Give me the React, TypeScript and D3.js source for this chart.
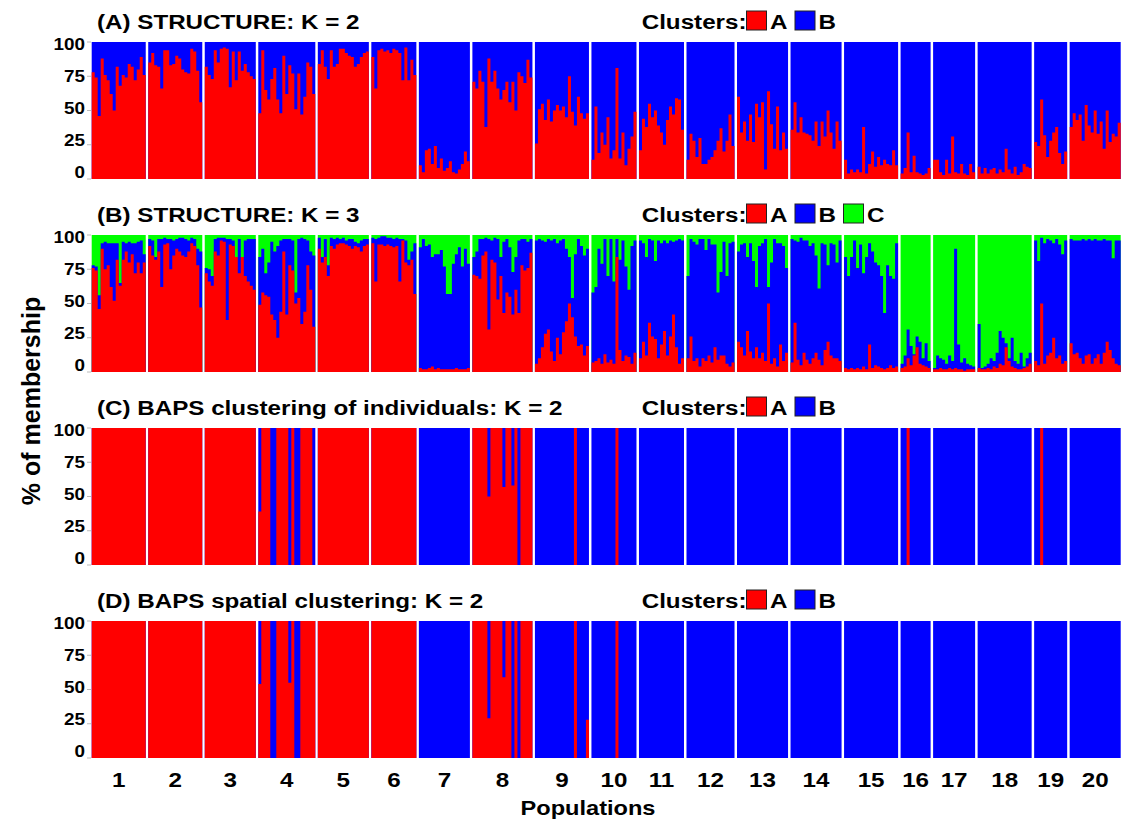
import React from "react";
import * as d3 from "d3";

// populations along the x axis
const populations = d3.range(1, 21).map(String);
const tickValues = [0, 25, 50, 75, 100];

// (A) STRUCTURE K = 2 : % membership to cluster A, one value per individual
const k2A = [
  [78, 74, 46, 88, 76, 72, 62, 50, 82, 68, 76, 74, 84, 82, 72, 80, 89, 76],
  [85, 92, 83, 82, 66, 94, 94, 83, 84, 90, 88, 80, 78, 77, 95, 93, 79, 56],
  [82, 76, 73, 94, 85, 95, 96, 95, 67, 93, 72, 93, 79, 84, 78, 75, 73],
  [48, 94, 65, 58, 73, 81, 58, 48, 90, 62, 83, 77, 51, 77, 47, 60, 85, 82, 62],
  [84, 94, 82, 73, 94, 82, 84, 95, 95, 92, 90, 89, 82, 84, 89, 92, 93],
  [89, 66, 94, 95, 93, 94, 92, 95, 94, 92, 72, 96, 72, 87, 76],
  [10, 5, 21, 22, 11, 24, 8, 15, 6, 8, 13, 5, 4, 7, 11, 20, 13],
  [71, 66, 79, 71, 38, 88, 71, 79, 66, 58, 65, 71, 56, 71, 50, 78, 75, 70, 87, 74],
  [26, 51, 55, 43, 58, 42, 50, 54, 50, 53, 45, 75, 49, 39, 60, 48, 44, 48],
  [14, 53, 19, 34, 25, 45, 15, 21, 81, 15, 34, 10, 22, 31, 49],
  [21, 44, 38, 55, 45, 50, 39, 34, 25, 43, 53, 47, 59, 58, 36],
  [14, 33, 28, 16, 30, 11, 11, 14, 16, 21, 28, 37, 20, 28, 47, 24],
  [60, 34, 42, 28, 47, 27, 55, 45, 56, 7, 64, 40, 22, 53, 21, 34, 22],
  [36, 56, 34, 45, 34, 33, 32, 28, 42, 24, 42, 31, 50, 34, 22, 42, 28],
  [14, 4, 7, 5, 7, 5, 38, 4, 11, 20, 9, 16, 10, 14, 11, 10, 21, 10],
  [4, 8, 34, 5, 17, 5, 4, 3, 4, 8],
  [14, 14, 5, 3, 14, 4, 31, 5, 4, 11, 4, 3, 11, 5],
  [9, 4, 8, 4, 7, 8, 4, 7, 5, 22, 7, 4, 9, 3, 5, 11, 9, 8],
  [27, 24, 58, 32, 16, 28, 34, 38, 19, 11, 20],
  [38, 48, 43, 47, 28, 54, 39, 34, 50, 33, 42, 22, 50, 27, 33, 31, 41],
];

// (B) STRUCTURE K = 3 : % cluster A, and % cluster A + B (rest is C)
const k3A = [
  [76, 74, 46, 90, 75, 78, 62, 52, 82, 63, 82, 88, 80, 86, 72, 80, 72, 80],
  [92, 85, 82, 88, 62, 93, 94, 75, 85, 90, 88, 85, 84, 88, 94, 92, 78, 47],
  [72, 66, 63, 88, 85, 96, 95, 38, 93, 92, 84, 72, 84, 70, 66, 63, 60],
  [49, 58, 56, 55, 42, 38, 25, 44, 88, 42, 78, 74, 50, 54, 35, 44, 78, 60, 33],
  [90, 80, 84, 70, 92, 90, 93, 94, 94, 93, 92, 90, 92, 91, 88, 92, 93],
  [94, 66, 93, 93, 92, 93, 92, 91, 92, 66, 96, 80, 78, 82, 57],
  [3, 2, 2, 3, 4, 2, 3, 2, 2, 2, 2, 2, 3, 2, 2, 2, 3],
  [71, 70, 68, 85, 88, 31, 82, 80, 53, 70, 43, 58, 55, 42, 60, 43, 78, 74, 76, 87],
  [6, 10, 18, 28, 31, 15, 8, 25, 13, 29, 37, 50, 40, 26, 19, 20, 12, 19],
  [7, 8, 10, 6, 13, 7, 9, 6, 84, 16, 8, 12, 11, 6, 14],
  [10, 22, 12, 36, 26, 24, 10, 20, 30, 12, 26, 42, 18, 6, 10],
  [10, 26, 8, 10, 4, 10, 8, 12, 7, 18, 9, 12, 12, 6, 4, 7],
  [22, 18, 12, 30, 15, 10, 18, 10, 14, 8, 50, 6, 10, 4, 20, 8, 14],
  [7, 36, 9, 5, 14, 9, 6, 10, 14, 9, 5, 16, 22, 12, 10, 10, 8],
  [3, 2, 3, 2, 3, 2, 4, 2, 20, 3, 5, 4, 3, 2, 3, 5, 3, 4],
  [3, 4, 10, 5, 12, 18, 6, 5, 4, 3],
  [2, 2, 3, 2, 2, 3, 2, 3, 2, 2, 1, 2, 2, 2],
  [3, 2, 2, 3, 2, 4, 3, 6, 5, 18, 8, 4, 3, 2, 2, 3, 4, 6],
  [8, 5, 50, 6, 12, 14, 25, 10, 12, 6, 8],
  [21, 13, 14, 10, 6, 12, 13, 6, 10, 13, 6, 14, 22, 16, 10, 6, 5],
];
const k3AB = [
  [78, 77, 56, 94, 95, 94, 94, 94, 94, 65, 95, 94, 95, 94, 94, 95, 96, 86],
  [97, 96, 84, 97, 97, 98, 97, 97, 96, 97, 98, 98, 97, 96, 98, 97, 90, 88],
  [76, 75, 70, 97, 98, 98, 98, 97, 97, 96, 84, 97, 84, 96, 97, 97, 97],
  [84, 90, 72, 80, 95, 88, 92, 96, 97, 97, 97, 96, 58, 97, 98, 97, 96, 88, 85],
  [98, 84, 97, 78, 98, 97, 98, 97, 98, 96, 97, 97, 95, 94, 96, 97, 97],
  [98, 97, 98, 99, 99, 98, 98, 97, 98, 97, 97, 96, 82, 88, 94],
  [91, 97, 92, 93, 84, 86, 86, 89, 77, 57, 57, 79, 86, 91, 77, 90, 79],
  [84, 88, 97, 97, 98, 97, 96, 98, 97, 84, 95, 97, 91, 73, 84, 96, 97, 97, 95, 97],
  [96, 97, 96, 95, 97, 96, 97, 94, 96, 97, 90, 84, 54, 86, 97, 92, 85, 90],
  [58, 62, 90, 79, 97, 70, 97, 66, 97, 82, 96, 77, 60, 92, 96],
  [96, 94, 84, 97, 96, 81, 96, 94, 96, 94, 96, 95, 96, 97, 96],
  [70, 97, 95, 93, 97, 97, 89, 97, 93, 93, 58, 73, 95, 70, 94, 95],
  [88, 93, 94, 84, 94, 81, 62, 92, 94, 97, 62, 80, 97, 94, 94, 92, 76],
  [97, 96, 95, 98, 96, 96, 92, 94, 85, 61, 94, 93, 78, 94, 93, 80, 96],
  [84, 70, 84, 96, 76, 93, 72, 84, 94, 88, 80, 78, 70, 43, 78, 70, 68, 94],
  [6, 12, 31, 19, 13, 26, 22, 10, 21, 8],
  [3, 12, 10, 9, 6, 12, 8, 90, 20, 7, 10, 6, 5, 4],
  [35, 3, 4, 6, 10, 8, 14, 30, 25, 21, 10, 25, 8, 6, 14, 4, 10, 14],
  [96, 81, 98, 94, 97, 96, 94, 97, 93, 86, 96],
  [97, 96, 96, 96, 97, 96, 97, 96, 97, 96, 96, 97, 96, 96, 83, 96, 96],
];

// BAPS: % cluster A of most individuals in each population,
// then the individuals that differ: [population, individual, % A]
const bapsIndBase = [100, 100, 100, 100, 100, 100, 0, 100, 0, 0, 0, 0, 0, 0, 0, 0, 0, 0, 0, 0];
const bapsIndOdd = [
  [4, 0, 39], [4, 4, 0], [4, 5, 0], [4, 10, 0], [4, 12, 0], [4, 13, 0], [4, 18, 0],
  [8, 5, 50], [8, 10, 57], [8, 13, 58], [8, 15, 0],
  [9, 13, 100], [10, 8, 100], [16, 2, 100], [19, 2, 100],
];
const bapsSpaBase = [100, 100, 100, 100, 100, 100, 0, 100, 0, 0, 0, 0, 0, 0, 0, 0, 0, 0, 0, 0];
const bapsSpaOdd = [
  [4, 0, 54], [4, 4, 0], [4, 5, 0], [4, 10, 55], [4, 12, 0], [4, 13, 0],
  [8, 5, 29], [8, 10, 59], [8, 13, 0], [8, 15, 0],
  [9, 13, 100], [9, 17, 28], [10, 8, 100],
];

const RED = "#ff0000";
const BLUE = "#0000ff";
const GREEN = "#00ff00";
const FONT = "Arial, 'Liberation Sans', Helvetica, sans-serif";
const SX = 1.18; // the figure's lettering is a little wide

const counts = k2A.map((p) => p.length);
const fromBaps = (base, odd) =>
  counts.map((n, i) => {
    const arr = new Array(n).fill(base[i]);
    odd.filter((o) => o[0] === i + 1).forEach((o) => (arr[o[1]] = o[2]));
    return arr;
  });

const panels = [
  { title: "(A) STRUCTURE: K = 2", clusters: ["A", "B"], a: k2A, ab: null },
  { title: "(B) STRUCTURE: K = 3", clusters: ["A", "B", "C"], a: k3A, ab: k3AB },
  { title: "(C) BAPS clustering of individuals: K = 2", clusters: ["A", "B"], a: fromBaps(bapsIndBase, bapsIndOdd), ab: null },
  { title: "(D) BAPS spatial clustering: K = 2", clusters: ["A", "B"], a: fromBaps(bapsSpaBase, bapsSpaOdd), ab: null },
];
const clusterColor = { A: RED, B: BLUE, C: GREEN };

const Label = ({ x, y, size, anchor = "start", children }) => (
  <text
    transform={`translate(${x},${y}) scale(${SX},1)`}
    textAnchor={anchor}
    fontSize={size}
    fontWeight="bold"
    fontFamily={FONT}
    fill="#000"
  >
    {children}
  </text>
);

export default function App() {
  const width = 1137, height = 820;
  const left = 91.7, right = 1120.7;
  const panelTop = [42, 235, 428, 621];
  const panelH = 137;
  const gapU = 0.83;

  // cumulative start of each population in "individual" units
  const starts = [];
  let acc = 0;
  counts.forEach((n, i) => {
    starts.push(acc);
    acc += n + (i < counts.length - 1 ? gapU : 0);
  });
  const x = d3.scaleLinear().domain([0, acc]).range([left, right]);

  return (
    <svg width={width} height={height} style={{ position: "absolute", left: 0, top: 0, background: "#fff" }}>
      {panels.map((panel, pi) => {
        const top = panelTop[pi];
        const y = d3.scaleLinear().domain([0, 100]).range([top + panelH, top]);
        const yLab = d3.scaleLinear().domain([0, 100]).range([top + panelH - 7, top + 2.5]);
        const k3 = !!panel.ab;
        // one stepped area per population and cluster layer
        const stepArea = (vals, s) => {
          const pts = vals.map((v, j) => [s + j, v]);
          pts.push([s + vals.length, vals[vals.length - 1]]);
          return d3
            .area()
            .x((d) => x(d[0]))
            .y0(y(0))
            .y1((d) => y(d[1]))
            .curve(d3.curveStepAfter)(pts);
        };
        return (
          <g key={panel.title}>
            <Label x={97} y={top - 13} size={20.5}>{panel.title}</Label>
            <Label x={641.7} y={top - 13} size={20.5}>Clusters:</Label>
            {panel.clusters.map((c, ci) => {
              const bx = 746.5 + ci * 48.5;
              return (
                <g key={c}>
                  <rect x={bx} y={top - 31} width={20} height={19} fill={clusterColor[c]} stroke="#222" strokeWidth={1} />
                  <Label x={bx + 23.5} y={top - 13} size={20.5}>{c}</Label>
                </g>
              );
            })}
            {tickValues.map((t) => (
              <g key={t}>
                <line x1={87} x2={91} y1={y(t)} y2={y(t)} stroke="#bbb" />
                <Label x={85} y={yLab(t) + 5.8} size={16} anchor="end">{t}</Label>
              </g>
            ))}
            {populations.map((p, i) => {
              const s = starts[i];
              const n = counts[i];
              const x0 = x(s), x1 = x(s + n);
              return (
                <g key={p}>
                  <rect x={x0} y={top} width={x1 - x0} height={panelH} fill={k3 ? GREEN : BLUE} />
                  {k3 && <path d={stepArea(panel.ab[i], s)} fill={BLUE} />}
                  <path d={stepArea(panel.a[i], s)} fill={RED} />
                </g>
              );
            })}
          </g>
        );
      })}
      {populations.map((p, i) => (
        <Label key={p} x={(x(starts[i]) + x(starts[i] + counts[i])) / 2} y={786.5} size={20.5} anchor="middle">
          {p}
        </Label>
      ))}
      <Label x={588} y={815} size={20} anchor="middle">Populations</Label>
      <text
        transform="translate(40,401) rotate(-90)"
        textAnchor="middle"
        fontSize={25}
        fontWeight="bold"
        fontFamily={FONT}
      >
        % of membership
      </text>
    </svg>
  );
}
